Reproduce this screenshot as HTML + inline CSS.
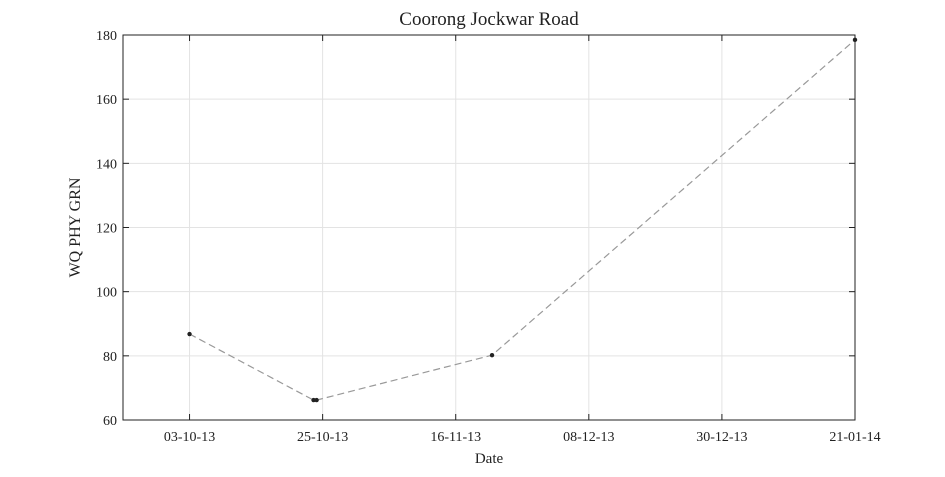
<!DOCTYPE html>
<html><head><meta charset="utf-8"><style>
body{margin:0;background:#fff;width:945px;height:472px;overflow:hidden}
text{font-family:"Liberation Serif",serif;fill:#222}
</style></head><body>
<svg id="chart" width="945" height="472" xmlns="http://www.w3.org/2000/svg"></svg>
<script>
const dates = ["2013-10-03T00:00:00Z","2013-10-23T12:00:00Z","2013-10-24T00:00:00Z","2013-11-22T00:00:00Z","2014-01-21T00:00:00Z"];
const values = [86.8, 66.2, 66.2, 80.2, 178.5];
const xTickLabels = ["03-10-13","25-10-13","16-11-13","08-12-13","30-12-13","21-01-14"];
const xTickDates = ["2013-10-03T00:00:00Z","2013-10-25T00:00:00Z","2013-11-16T00:00:00Z","2013-12-08T00:00:00Z","2013-12-30T00:00:00Z","2014-01-21T00:00:00Z"];
const yTicks = [60,80,100,120,140,160,180];

const L=123,R=855,T=35,B=420;
const d0=Date.parse("2013-09-22T00:00:00Z"), d1=Date.parse("2014-01-21T00:00:00Z");
const X=d=>L+(Date.parse(d)-d0)/(d1-d0)*(R-L);
const Y=v=>B-(v-60)/120*(B-T);
const svg=document.getElementById('chart');
const NS="http://www.w3.org/2000/svg";
function mk(t,a,p){const e=document.createElementNS(NS,t);for(const k in a)e.setAttribute(k,a[k]);(p||svg).appendChild(e);return e;}

let bg=mk('rect',{x:L,y:T,width:R-L,height:B-T,fill:'#fff'});



yTicks.forEach(v=>{
  const y=Y(v);
  let g=mk('line',{x1:L,x2:R,y1:y,y2:y,stroke:'#e3e3e3','stroke-width':1});
  
  
  mk('line',{x1:L,x2:L+6,y1:y,y2:y,stroke:'#222'});
  mk('line',{x1:R,x2:R-6,y1:y,y2:y,stroke:'#222'});
  let t=mk('text',{x:L-6,y:y+5,'text-anchor':'end','font-size':14});
  t.textContent=v;
  
  
});
xTickDates.forEach((d,i)=>{
  const x=X(d);
  let g=mk('line',{x1:x,x2:x,y1:T,y2:B,stroke:'#e3e3e3','stroke-width':1});
  
  
  mk('line',{x1:x,x2:x,y1:B,y2:B-6,stroke:'#222'});
  mk('line',{x1:x,x2:x,y1:T,y2:T+6,stroke:'#222'});
  let t=mk('text',{x:x,y:B+21,'text-anchor':'middle','font-size':14});
  t.textContent=xTickLabels[i];
  
  
});
let fr=mk('rect',{x:L,y:T,width:R-L,height:B-T,fill:'none',stroke:'#222','stroke-width':1});



let pl=mk('polyline',{points:dates.map((d,i)=>X(d)+','+Y(values[i])).join(' '),fill:'none',stroke:'#999','stroke-width':1.2,'stroke-dasharray':'7,4'});


dates.forEach((d,i)=>{
  let c=mk('circle',{cx:X(d),cy:Y(values[i]),r:2.2,fill:'#222'});
  
  
});

let ti=mk('text',{x:(L+R)/2,y:25,'text-anchor':'middle','font-size':19});
ti.textContent="Coorong Jockwar Road";


let xl=mk('text',{x:(L+R)/2,y:463,'text-anchor':'middle','font-size':15});
xl.textContent="Date";


let yl=mk('text',{x:0,y:0,'text-anchor':'middle','font-size':16,transform:'translate(80,'+((T+B)/2)+') rotate(-90)'});
yl.textContent="WQ PHY GRN";


</script>
</body></html>
